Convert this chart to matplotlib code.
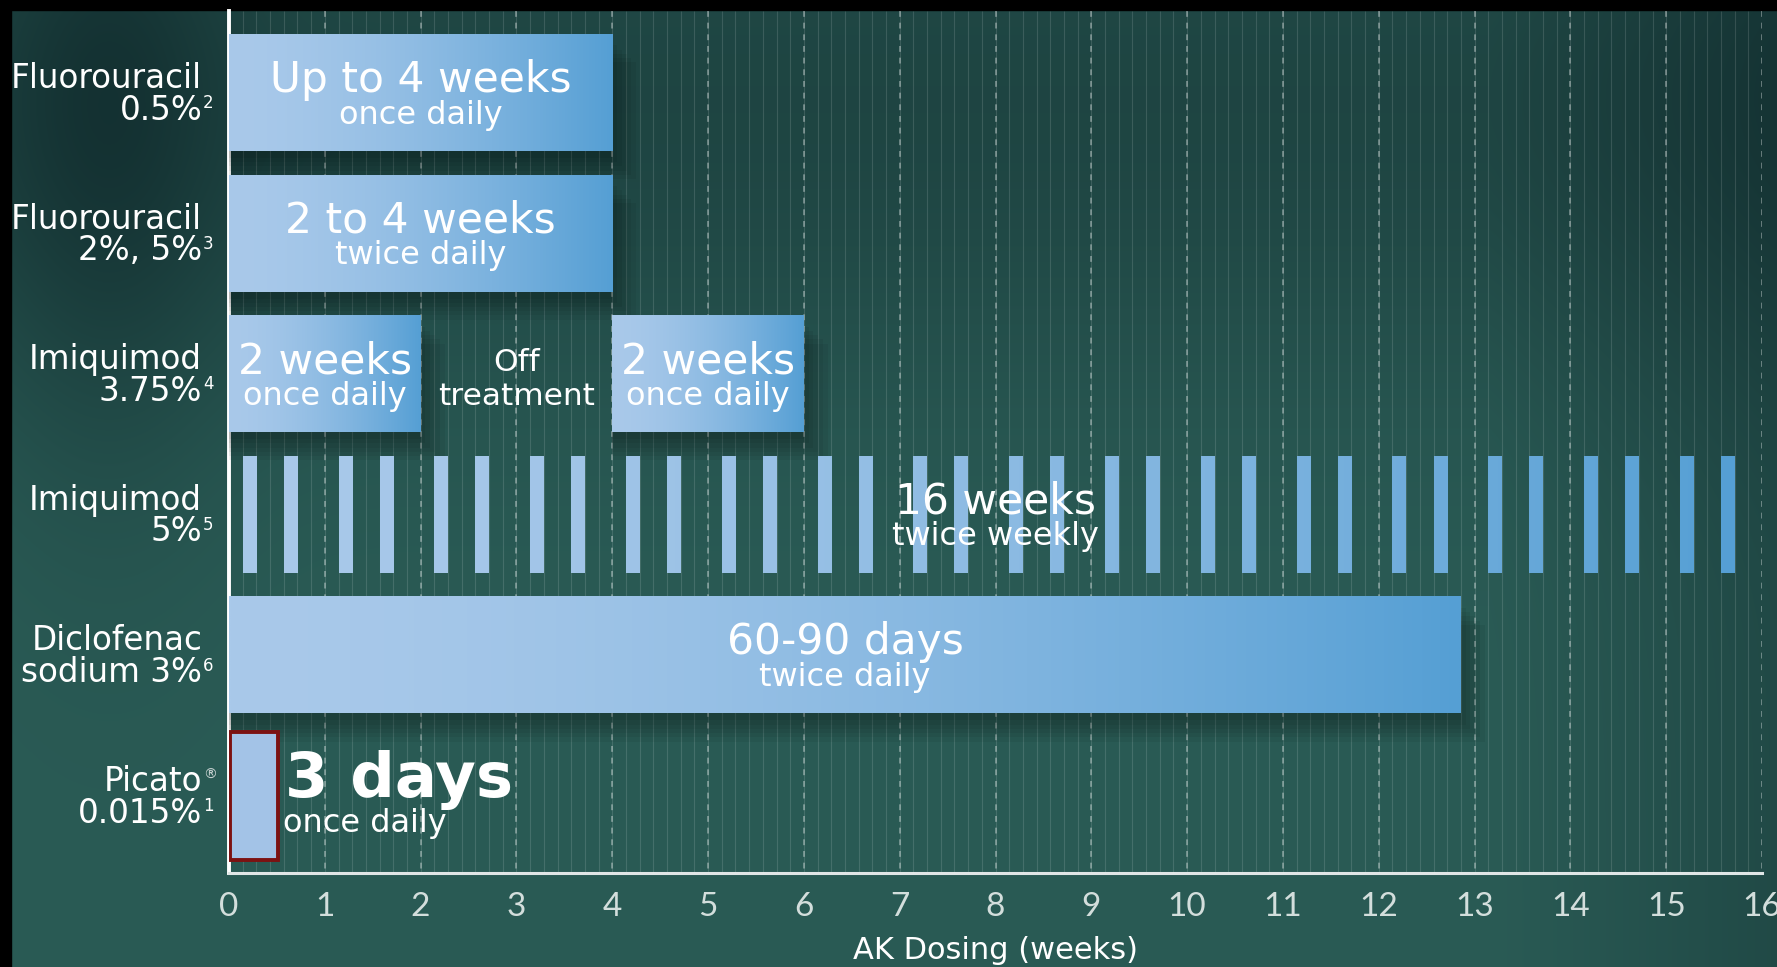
import numpy as np
import matplotlib
matplotlib.use("Agg")
import matplotlib.pyplot as plt
from matplotlib.patches import Rectangle

# --- datos ---
drugs = ["Fluorouracil\n0.5%", "Fluorouracil\n2%, 5%", "Imiquimod\n3.75%", "Imiquimod\n5%",
         "Diclofenac\nsodium 3%", "Picato\n0.015%"]
refs = ["2", "3", "4", "5", "6", "1"]

fu05_weeks = (0, 4)
fu25_weeks = (0, 4)
imi375_on = [(0, 2), (4, 6)]
imi375_off_mid = 3
imi5_days = [1, 4, 8, 11, 15, 18, 22, 25, 29, 32, 36, 39, 43, 46, 50, 53,
             57, 60, 64, 67, 71, 74, 78, 81, 85, 88, 92, 95, 99, 102, 106, 109]
imi5_total_weeks = 16
diclo_days = 90
picato_bar_weeks = 0.5   # ancho dibujado en la imagen (3 días)

main_labels = ["Up to 4 weeks", "2 to 4 weeks", "2 weeks", "16 weeks", "60-90 days", "3 days"]
sub_labels = ["once daily", "twice daily", "once daily", "twice weekly", "twice daily", "once daily"]
x_ticks = list(range(0, 17))
x_label = "AK Dosing (weeks)"

# --- estilo ---
plt.rcParams['font.family'] = ['DejaVu Sans']
c_light = np.array([0xa9, 0xc9, 0xea]) / 255
c_dark = np.array([0x55, 0x9f, 0xd4]) / 255


def grad_color(t):
    t = (np.clip(t, 0, 1) ** 1.6)[:, None]
    return c_light * (1 - t) + c_dark * t


def grad_bar(ax, x0, x1, y, h, g0, g1):
    # barra con degradado horizontal, g0..g1 es el rango del degradado
    t = np.linspace((x0 - g0) / (g1 - g0), (x1 - g0) / (g1 - g0), 256)
    img = grad_color(t)[None, :, :]
    ax.imshow(img, extent=[x0, x1, y + h / 2, y - h / 2], aspect='auto',
              interpolation='bilinear', zorder=4)


def shadow(ax, x0, x1, y, h):
    for k in range(6):
        ax.add_patch(Rectangle((x0, y - h / 2 + 0.05 + 0.03 * k),
                               x1 - x0 + 0.05 * k, h, facecolor='black',
                               alpha=0.05, lw=0, zorder=3))


fig = plt.figure(figsize=(17.77, 9.67), dpi=100)

# fondo degradado
bg = fig.add_axes([0, 0, 1, 1], zorder=0)
bg.axis('off')
W, H = 300, 160
xx, yy = np.meshgrid(np.linspace(0, 1, W), np.linspace(0, 1, H))
bg_light = np.array([0x2a, 0x5b, 0x55]) / 255
bg_dark = np.array([0x10, 0x2a, 0x2c]) / 255
d = 0.45 * np.exp(-((yy - 0.1) / 0.3) ** 2) + 0.35 * np.clip((xx - 0.84) / 0.16, 0, 1)
d += 0.4 * np.exp(-((xx - 0.06) / 0.07) ** 2) * np.exp(-((yy - 0.12) / 0.4) ** 2)
d = np.clip(d, 0, 1)[:, :, None]
bg.imshow(bg_light * (1 - d) + bg_dark * d, extent=[0, 1, 0, 1], aspect='auto',
          interpolation='bilinear')
bg.set_xlim(0, 1)
bg.set_ylim(0, 1)
bg.add_patch(Rectangle((0, 1 - 10 / 967), 1, 10 / 967, color='black'))
bg.add_patch(Rectangle((0, 0), 11 / 1777, 1, color='black'))

ax = fig.add_axes([229 / 1777, 94 / 967, 1533 / 1777, 862 / 967], zorder=1)
ax.set_facecolor('none')

# rejilla: diaria y semanal
ax.vlines(np.arange(1, 16 * 7) / 7, -0.58, 5.55, color='white', alpha=0.13, lw=0.8, zorder=1)
ax.vlines(x_ticks[1:], -0.58, 5.55, color='white', alpha=0.35, lw=1.4,
          linestyles=(0, (3, 3)), zorder=2)

h = 0.83
# Fluorouracil
for row, (a, b) in [(0, fu05_weeks), (1, fu25_weeks)]:
    shadow(ax, a, b, row, h)
    grad_bar(ax, a, b, row, h, a, b)
# Imiquimod 3.75%
for a, b in imi375_on:
    shadow(ax, a, b, 2, h)
    grad_bar(ax, a, b, 2, h, a, b)
# Imiquimod 5%
for dday in imi5_days:
    a = dday / 7
    grad_bar(ax, a, a + 1 / 7, 3, h, 0, imi5_total_weeks - 0.3)
# Diclofenac
diclo_w = diclo_days / 7
shadow(ax, 0, diclo_w, 4, h)
grad_bar(ax, 0, diclo_w, 4, h, 0, diclo_w)
# Picato
ax.add_patch(Rectangle((0.01, 5 - 0.455), picato_bar_weeks, 0.91, facecolor='#a3c3e7',
                       edgecolor='#7c1212', lw=2.8, zorder=5))

ax.set_xlim(0, 16)
ax.set_ylim(5.55, -0.58)

# textos de barras
txt = dict(color='white', ha='center', va='center', zorder=6)
centers = [2, 2, 1, 8, diclo_w / 2]
for i, cx in enumerate(centers):
    ax.text(cx, i - 0.09, main_labels[i], fontsize=30.5, **txt)
    ax.text(cx, i + 0.16, sub_labels[i], fontsize=23, **txt)
ax.text(5, 2 - 0.09, main_labels[2], fontsize=30.5, **txt)
ax.text(5, 2 + 0.16, sub_labels[2], fontsize=23, **txt)
ax.text(imi375_off_mid, 2 - 0.08, "Off", fontsize=22.5, **txt)
ax.text(imi375_off_mid, 2 + 0.16, "treatment", fontsize=22.5, **txt)
ax.text(0.58, 5 - 0.11, main_labels[5], fontsize=45, fontweight='bold', color='white',
        ha='left', va='center', zorder=6)
ax.text(0.56, 5 + 0.2, sub_labels[5], fontsize=23, color='white', ha='left',
        va='center', zorder=6)

# etiquetas de fármacos
ytr = ax.get_yaxis_transform()
for i, lab in enumerate(drugs):
    l1, l2 = lab.split("\n")
    ax.text(-0.0175, i - 0.1, l1, transform=ytr,
            fontsize=23.5, color='white', ha='right', va='center', clip_on=False)
    ax.text(-0.0175, i + 0.125, l2, transform=ytr, fontsize=23.5, color='white',
            ha='right', va='center', clip_on=False)
    ax.text(-0.017, i + 0.075, refs[i], transform=ytr, fontsize=12, color='white',
            ha='left', va='center', clip_on=False)
ax.text(-0.017, 5 - 0.15, "\u00ae", transform=ytr, fontsize=10, color='#c8d2d2',
        ha='left', va='center', clip_on=False)

# ejes
for s in ['top', 'right']:
    ax.spines[s].set_visible(False)
ax.spines['left'].set_color('white')
ax.spines['left'].set_linewidth(2.8)
ax.spines['bottom'].set_color('#e0e6e6')
ax.spines['bottom'].set_linewidth(2.2)
ax.set_yticks([])
ax.set_xticks(x_ticks)
ax.tick_params(axis='x', length=0, pad=14, labelsize=24, labelcolor='#d3dedc')
for t in ax.get_xticklabels():
    t.set_fontfamily('Lato')
    t.set_fontweight('normal')
ax.set_xlabel(x_label, fontsize=22, color='white', labelpad=10)

fig.savefig("out.png", dpi=100)
